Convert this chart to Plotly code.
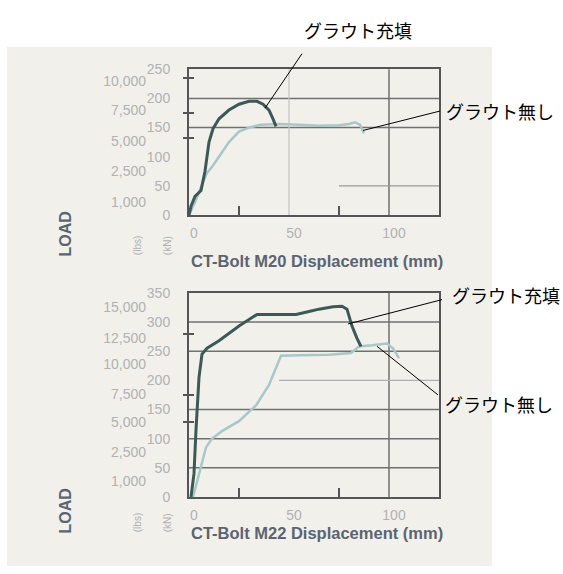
import plotly.graph_objects as go

W, H = 563, 574

# ---- data: CT-Bolt M20 (load kN vs displacement mm)
m20_grout_x = [0, 1, 3, 6, 8, 10, 12, 15, 20, 25, 30, 34, 37, 40, 42, 43.5]
m20_grout_y = [0, 15, 32, 42, 75, 125, 148, 165, 180, 190, 195, 195, 190, 180, 165, 152]
m20_nogrout_x = [0, 3, 6, 9, 12, 16, 20, 25, 30, 36, 45, 55, 65, 75, 80, 83, 85.5, 86.5, 87.5]
m20_nogrout_y = [0, 22, 48, 72, 85, 105, 125, 143, 150, 155, 156, 155, 153, 154, 156, 159, 155, 147, 140]

# ---- data: CT-Bolt M22
m22_grout_x = [1, 2.5, 3.5, 5, 6.5, 9, 15, 25, 34, 45, 53.5, 60, 65, 72, 76.5, 79, 81.5, 84, 86]
m22_grout_y = [0, 40, 115, 205, 245, 255, 268, 293, 313, 313, 313, 318, 322, 326, 327, 322, 293, 272, 258]
m22_nogrout_x = [2, 4, 8.5, 11.5, 16.5, 25, 33.5, 40, 46, 55, 61.5, 70, 81, 85, 91.5, 96, 99, 102, 105]
m22_nogrout_y = [0, 25, 85, 100, 113, 130, 157, 192, 242, 243, 243, 244, 247, 258, 260, 262, 263, 255, 238]

# axis labels
x_ticks = [0, 50, 100]
m20_kn_ticks = [0, 50, 100, 150, 200, 250]
m20_lb_text = ["10,000", "7,500", "5,000", "2,500", "1,000"]
m20_lb_pos = [230, 180, 127, 75, 23]
m22_kn_ticks = [0, 50, 100, 150, 200, 250, 300, 350]
m22_lb_text = ["15,000", "12,500", "10,000", "7,500", "5,000", "2,500", "1,000"]
m22_lb_pos = [325, 273, 227, 177, 128, 77, 27]

LABEL_GREY = "#b2b2b2"
FRAME = "#555555"
GRID = "#707070"
DARK = "#3c5a55"
LIGHT = "#a6c9c7"
FONT = "Liberation Sans, Arial, sans-serif"
JP = "Noto Sans CJK JP"


def px(x):
    return x / W


def py(y):
    return 1 - y / H


# plot rectangles (pixels)
X0, X1 = 189, 439
TOP = (63, 213)
BOT = (293, 503)

fig = go.Figure()

# curves
fig.add_trace(go.Scatter(x=m20_nogrout_x, y=m20_nogrout_y, xaxis="x", yaxis="y",
                         mode="lines", line=dict(color=LIGHT, width=2.5)))
fig.add_trace(go.Scatter(x=m20_grout_x, y=m20_grout_y, xaxis="x", yaxis="y",
                         mode="lines", line=dict(color=DARK, width=3)))
fig.add_trace(go.Scatter(x=m22_nogrout_x, y=m22_nogrout_y, xaxis="x2", yaxis="y2",
                         mode="lines", line=dict(color=LIGHT, width=2.5)))
fig.add_trace(go.Scatter(x=m22_grout_x, y=m22_grout_y, xaxis="x2", yaxis="y2",
                         mode="lines", line=dict(color=DARK, width=3)))

# empty traces so the overlay axes are rendered
for ya in ["y3", "y4", "y5", "y6", "y7", "y8"]:
    xa = "x" if ya in ("y3", "y5", "y7") else "x2"
    fig.add_trace(go.Scatter(x=[None], y=[None], xaxis=xa, yaxis=ya,
                             mode="lines", hoverinfo="skip"))


def xaxis_cfg(anchor):
    return dict(domain=[px(X0), px(X1)], anchor=anchor, range=[0, 125],
                tickvals=x_ticks, ticktext=[str(v) for v in x_ticks],
                ticks="", showgrid=False, zeroline=False,
                showline=True, mirror=True, linecolor=FRAME, linewidth=2,
                tickfont=dict(size=14, color=LABEL_GREY, family=FONT),
                ticklabelstandoff=4, ticklabelshift=5,
                minor=dict(tickvals=[25, 75], ticks="inside", ticklen=9,
                           tickcolor=FRAME, tickwidth=1.5, showgrid=False))


def yaxis_cfg(anchor, rng, dom, ticks):
    return dict(domain=dom, anchor=anchor, range=rng, tickvals=ticks,
                ticktext=[str(v) for v in ticks], ticks="", showgrid=False,
                zeroline=False, showline=True, mirror=True, linecolor=FRAME,
                linewidth=2, ticklabelstandoff=14,
                tickfont=dict(size=14, color=LABEL_GREY, family=FONT))


def lb_axis(over, rng, pos, text):
    return dict(overlaying=over, anchor="free", position=px(146), side="left",
                range=rng, tickvals=pos, ticktext=text, ticks="",
                showline=False, showgrid=False, zeroline=False,
                tickfont=dict(size=14, color=LABEL_GREY, family=FONT))


def border_ticks(over, anchor, rng, vals, direction):
    return dict(overlaying=over, anchor=anchor, side="left", range=rng,
                tickvals=vals, showticklabels=False, ticks=direction,
                ticklen=5, tickwidth=1.5, tickcolor=FRAME,
                showline=False, showgrid=False, zeroline=False)


top_dom = [py(TOP[1]), py(TOP[0])]
bot_dom = [py(BOT[1]), py(BOT[0])]

fig.update_layout(
    width=W, height=H, autosize=False,
    margin=dict(l=0, r=0, t=0, b=0),
    paper_bgcolor="white", plot_bgcolor="rgba(0,0,0,0)",
    showlegend=False,
    font=dict(family=FONT),
    xaxis=xaxis_cfg("y"),
    xaxis2=xaxis_cfg("y2"),
    yaxis=yaxis_cfg("x", [0, 250], top_dom, m20_kn_ticks),
    yaxis2=yaxis_cfg("x2", [0, 350], bot_dom, m22_kn_ticks),
    yaxis3=lb_axis("y", [0, 250], m20_lb_pos, m20_lb_text),
    yaxis4=lb_axis("y2", [0, 350], m22_lb_pos, m22_lb_text),
    yaxis5=border_ticks("y", "x", [0, 250], [235, 175, 132], "outside"),
    yaxis6=border_ticks("y2", "x2", [0, 350], [280, 175, 128], "outside"),
    yaxis7=border_ticks("y", "x", [0, 250], [235, 175, 132], "inside"),
    yaxis8=border_ticks("y2", "x2", [0, 350], [280, 175, 128], "inside"),
)

shapes = []
# scanned page background
shapes.append(dict(type="rect", xref="paper", yref="paper",
                   x0=px(7), x1=px(492), y0=py(574), y1=py(40),
                   fillcolor="#f1f0eb", line=dict(width=0), layer="below"))

# gridlines, M20
for v in [150, 200]:
    shapes.append(dict(type="line", xref="x domain", yref="y", x0=0, x1=1, y0=v, y1=v,
                       line=dict(color=GRID, width=1.5), layer="below"))
shapes.append(dict(type="line", xref="x", yref="y", x0=75, x1=125, y0=50, y1=50,
                   line=dict(color="#9a9a9a", width=1.2), layer="below"))
shapes.append(dict(type="line", xref="x", yref="y domain", x0=50, x1=50, y0=0, y1=1,
                   line=dict(color="#c4c4c4", width=1.2), layer="below"))
shapes.append(dict(type="line", xref="x", yref="y domain", x0=100, x1=100, y0=0, y1=1,
                   line=dict(color=GRID, width=1.5), layer="below"))

# gridlines, M22
for v in [50, 100, 150, 250, 300]:
    shapes.append(dict(type="line", xref="x2 domain", yref="y2", x0=0, x1=1, y0=v, y1=v,
                       line=dict(color=GRID, width=1.5), layer="below"))
shapes.append(dict(type="line", xref="x2", yref="y2", x0=45, x1=125, y0=200, y1=200,
                   line=dict(color="#b0b0b0", width=1.2), layer="below"))
shapes.append(dict(type="line", xref="x2", yref="y2 domain", x0=100, x1=100, y0=0, y1=1,
                   line=dict(color=GRID, width=1.5), layer="below"))

# leader lines for the callouts (pixel positions)
leaders = [
    ((302, 47), (265, 103)),
    ((440, 106), (363, 126)),
    ((442, 300), (348, 325)),
    ((438, 398), (377, 348)),
]
for (xa, ya), (xb, yb) in leaders:
    shapes.append(dict(type="line", xref="paper", yref="paper",
                       x0=px(xa), y0=py(ya), x1=px(xb), y1=py(yb),
                       line=dict(color="black", width=1)))

fig.update_layout(shapes=shapes)

annotations = []
callouts = [
    ("グラウト充填", 302, 23),
    ("グラウト無し", 444, 106),
    ("グラウト充填", 450, 295),
    ("グラウト無し", 443, 407),
]
for text, x, y in callouts:
    annotations.append(dict(text=text, xref="paper", yref="paper", x=px(x), y=py(y),
                            xanchor="left", yanchor="middle", showarrow=False,
                            font=dict(family=JP, size=18, color="black")))

# axis titles and unit labels
TITLE_COL = "#5a6470"
for label, ytitle, yload in [("CT-Bolt M20 Displacement (mm)", 260, 233),
                             ("CT-Bolt M22 Displacement (mm)", 540, 518)]:
    annotations.append(dict(text=label, xref="paper", yref="paper", x=px(189), y=py(ytitle),
                            xanchor="left", yanchor="middle", showarrow=False,
                            font=dict(family=FONT, size=16.5, color=TITLE_COL, weight="bold")))
    annotations.append(dict(text="LOAD", xref="paper", yref="paper", x=px(66), y=py(yload),
                            xanchor="center", yanchor="middle", showarrow=False, textangle=-90,
                            font=dict(family=FONT, size=16, color=TITLE_COL, weight="bold")))
    annotations.append(dict(text="(lbs)", xref="paper", yref="paper", x=px(137), y=py(yload + 12),
                            xanchor="center", yanchor="middle", showarrow=False, textangle=-90,
                            font=dict(family=FONT, size=10, color="#b0b0b0")))
    annotations.append(dict(text="(kN)", xref="paper", yref="paper", x=px(167), y=py(yload + 12),
                            xanchor="center", yanchor="middle", showarrow=False, textangle=-90,
                            font=dict(family=FONT, size=10, color="#b0b0b0")))

fig.update_layout(annotations=annotations)

fig.write_html("out.html")
